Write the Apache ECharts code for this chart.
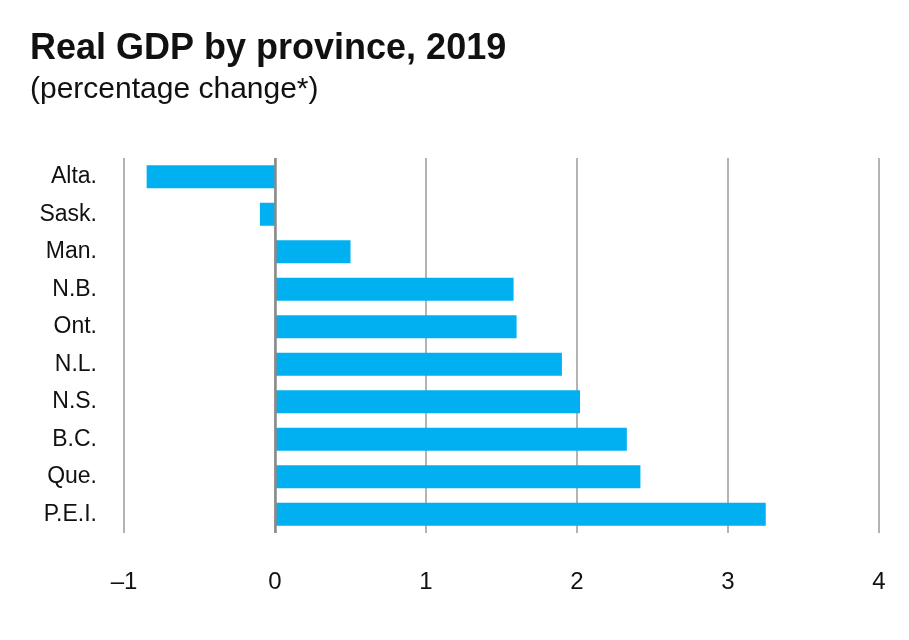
<!DOCTYPE html>
<html>
<head>
<meta charset="utf-8">
<script src="https://cdn.jsdelivr.net/npm/echarts@6/dist/echarts.min.js"></script>
<style>
html,body{margin:0;padding:0;background:#fff;}
#chart{width:909px;height:640px;}
</style>
</head>
<body>
<div id="chart"></div>
<script>
var provinces = ['Alta.', 'Sask.', 'Man.', 'N.B.', 'Ont.', 'N.L.', 'N.S.', 'B.C.', 'Que.', 'P.E.I.'];
var gdpChange = [-0.85, -0.1, 0.5, 1.58, 1.6, 1.9, 2.02, 2.33, 2.42, 3.25];
var xTicks = [-1, 0, 1, 2, 3, 4];

var chart = echarts.init(document.getElementById('chart'));
chart.setOption({
  backgroundColor: '#ffffff',
  animation: false,
  title: {
    text: 'Real GDP by province, 2019',
    subtext: '(percentage change*)',
    left: 25,
    top: 26,
    itemGap: 8,
    textStyle: { fontFamily: 'Liberation Sans', fontWeight: 'bold', fontSize: 36, color: '#111' },
    subtextStyle: { fontFamily: 'Liberation Sans', fontSize: 30, color: '#111' }
  },
  grid: { left: 124, right: 30, top: 158, bottom: 107 },
  xAxis: {
    type: 'value',
    min: xTicks[0],
    max: xTicks[xTicks.length - 1],
    interval: 1,
    axisLine: { show: false },
    axisTick: { show: false },
    splitLine: { show: true, lineStyle: { color: '#9a9a9a', width: 1.5 } },
    axisLabel: {
      margin: 37,
      fontFamily: 'Liberation Sans',
      fontSize: 24,
      color: '#111',
      formatter: function (v) { return v < 0 ? '\u2013' + Math.abs(v) : String(v); }
    }
  },
  yAxis: {
    type: 'category',
    data: provinces,
    inverse: true,
    axisLine: { show: false },
    axisTick: { show: false },
    splitLine: { show: false },
    axisLabel: { margin: 27, fontFamily: 'Liberation Sans', fontSize: 23, color: '#111' }
  },
  series: [{
    type: 'bar',
    data: gdpChange,
    barWidth: 23,
    itemStyle: { color: '#00b0f0' },
    markLine: {
      silent: true,
      symbol: 'none',
      label: { show: false },
      lineStyle: { color: '#8a8a8a', width: 2.5, type: 'solid' },
      data: [{ xAxis: 0 }]
    }
  }]
});
</script>
</body>
</html>
